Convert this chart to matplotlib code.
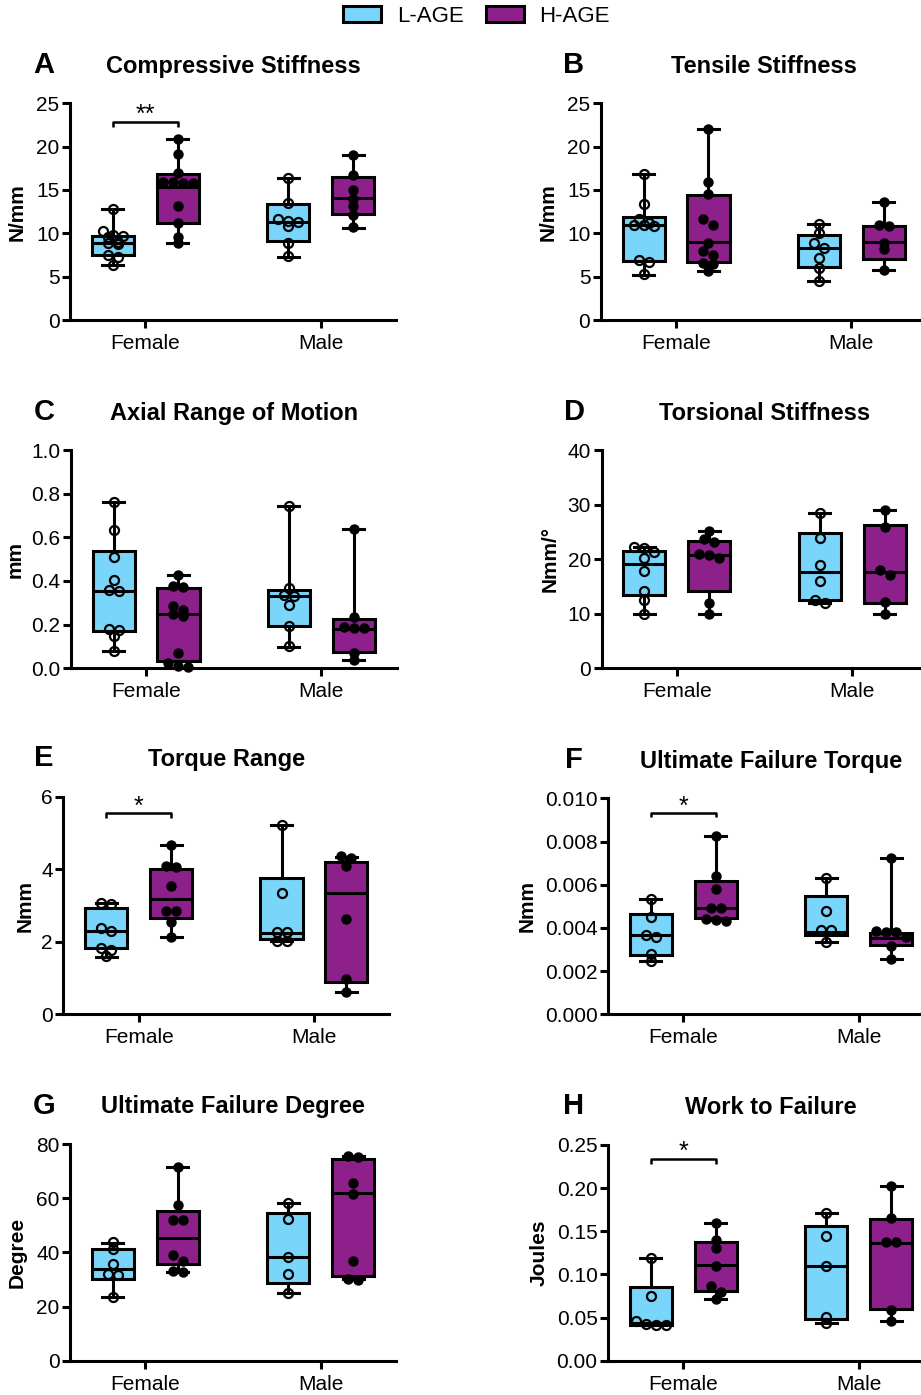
import numpy as np
import matplotlib
matplotlib.use('Agg')
import matplotlib.pyplot as plt
from matplotlib.patches import Patch
from matplotlib.ticker import FormatStrFormatter

plt.rcParams['font.family'] = ['Liberation Sans', 'DejaVu Sans']

W, H = 921, 1395
BLUE = '#79D5FA'
PURPLE = '#8E208C'

categories = ['Female', 'Male']
groups = ['L-AGE', 'H-AGE']

# ---------------- data (order of box lists: L-Female, H-Female, L-Male, H-Male) -------------
# A Compressive Stiffness
A_LF = [12.8, 10.3, 9.8, 9.7, 9.6, 9.0, 8.9, 8.8, 7.5, 7.3, 6.4]
A_HF = [20.9, 19.2, 17.0, 15.9, 15.8, 15.8, 15.9, 13.1, 11.2, 9.6, 8.9]
A_LM = [16.4, 13.5, 11.7, 11.4, 11.3, 10.8, 8.9, 7.4]
A_HM = [19.0, 16.7, 15.0, 14.0, 13.1, 12.1, 10.7]
A_q1 = [7.55, 11.15, 9.1, 12.2]
A_med = [8.85, 15.4, 11.3, 14.1]
A_q3 = [9.7, 16.8, 13.35, 16.5]
A_lo = [6.35, 8.9, 7.3, 10.6]
A_hi = [12.8, 20.9, 16.4, 19.0]

# B Tensile Stiffness
B_LF = [16.9, 13.4, 11.7, 11.2, 11.0, 11.0, 10.9, 6.9, 6.7, 5.3]
B_HF = [22.0, 15.9, 14.5, 11.6, 11.0, 8.9, 8.0, 7.5, 6.6, 6.5, 5.7]
B_LM = [11.1, 10.0, 8.9, 8.3, 7.1, 6.0, 4.45]
B_HM = [13.6, 11.0, 10.8, 8.9, 8.2, 5.8]
B_q1 = [6.8, 6.7, 6.1, 7.0]
B_med = [11.0, 9.0, 8.3, 8.95]
B_q3 = [11.85, 14.4, 9.85, 10.8]
B_lo = [5.2, 5.7, 4.45, 5.8]
B_hi = [16.8, 22.0, 11.1, 13.6]

# C Axial Range of Motion
C_LF = [0.763, 0.634, 0.508, 0.405, 0.36, 0.355, 0.178, 0.175, 0.15, 0.078]
C_HF = [0.427, 0.375, 0.372, 0.285, 0.268, 0.25, 0.238, 0.068, 0.022, 0.01, 0.005]
C_LM = [0.745, 0.37, 0.338, 0.33, 0.288, 0.195, 0.1]
C_HM = [0.638, 0.237, 0.19, 0.185, 0.183, 0.07, 0.038]
C_q1 = [0.173, 0.034, 0.195, 0.075]
C_med = [0.356, 0.249, 0.333, 0.18]
C_q3 = [0.537, 0.366, 0.359, 0.226]
C_lo = [0.079, 0.003, 0.099, 0.038]
C_hi = [0.763, 0.427, 0.745, 0.638]

# D Torsional Stiffness
D_LF = [22.2, 22.1, 21.4, 20.2, 17.8, 14.2, 12.6, 10.0]
D_HF = [25.2, 23.7, 23.2, 21.0, 20.8, 20.3, 11.9, 10.0]
D_LM = [28.5, 23.9, 19.0, 16.0, 12.5, 12.0]
D_HM = [29.0, 25.8, 18.0, 17.1, 12.2, 10.0]
D_q1 = [13.4, 14.2, 12.6, 11.9]
D_med = [19.1, 20.8, 17.6, 17.6]
D_q3 = [21.5, 23.4, 24.7, 26.3]
D_lo = [10.0, 10.0, 12.0, 10.0]
D_hi = [22.2, 25.2, 28.5, 29.0]

# E Torque Range
E_LF = [3.06, 3.03, 2.38, 2.3, 1.83, 1.77, 1.6]
E_HF = [4.67, 4.08, 4.05, 3.54, 2.86, 2.84, 2.55, 2.14]
E_LM = [5.22, 3.34, 2.28, 2.26, 2.03, 2.01]
E_HM = [4.36, 4.3, 4.08, 2.63, 0.97, 0.62]
E_q1 = [1.82, 2.66, 2.07, 0.9]
E_med = [2.3, 3.18, 2.25, 3.34]
E_q3 = [2.92, 4.0, 3.75, 4.2]
E_lo = [1.59, 2.14, 2.02, 0.61]
E_hi = [3.06, 4.67, 5.22, 4.34]

# F Ultimate Failure Torque
F_LF = [0.00534, 0.0045, 0.00368, 0.0036, 0.0028, 0.00247]
F_HF = [0.00826, 0.0064, 0.0058, 0.0049, 0.0049, 0.0044, 0.00435, 0.0043]
F_LM = [0.00633, 0.0048, 0.0039, 0.00388, 0.00336]
F_HM = [0.00722, 0.00385, 0.00383, 0.00382, 0.0036, 0.00316, 0.00256]
F_q1 = [0.00275, 0.00448, 0.00367, 0.0032]
F_med = [0.00367, 0.0049, 0.00383, 0.00352]
F_q3 = [0.00465, 0.00619, 0.00548, 0.00375]
F_lo = [0.00247, 0.00437, 0.00336, 0.00256]
F_hi = [0.00534, 0.00826, 0.00633, 0.00722]

# G Ultimate Failure Degree
G_LF = [43.8, 41.2, 35.6, 32.0, 31.8, 23.6]
G_HF = [71.4, 57.5, 52.0, 51.8, 39.0, 36.8, 33.0, 32.8]
G_LM = [58.3, 52.3, 38.4, 32.0, 24.9]
G_HM = [75.6, 75.3, 65.5, 61.4, 36.9, 30.2, 29.9]
G_q1 = [30.0, 35.7, 28.8, 31.3]
G_med = [33.7, 45.2, 38.4, 61.8]
G_q3 = [41.1, 55.4, 54.4, 74.3]
G_lo = [23.6, 32.9, 24.9, 30.0]
G_hi = [43.6, 71.4, 58.3, 75.6]

# H Work to Failure
H_LF = [0.1186, 0.0755, 0.0455, 0.0425, 0.0415, 0.0412]
H_HF = [0.160, 0.140, 0.131, 0.110, 0.086, 0.080, 0.0715]
H_LM = [0.1708, 0.145, 0.1097, 0.051, 0.0433]
H_HM = [0.2028, 0.165, 0.138, 0.137, 0.0587, 0.0464]
H_q1 = [0.0418, 0.0811, 0.0483, 0.0595]
H_med = [0.044, 0.1105, 0.1097, 0.1368]
H_q3 = [0.085, 0.137, 0.156, 0.1638]
H_lo = [0.0412, 0.0715, 0.0433, 0.0464]
H_hi = [0.1186, 0.160, 0.1708, 0.2028]

titles = ['Compressive Stiffness', 'Tensile Stiffness', 'Axial Range of Motion',
          'Torsional Stiffness', 'Torque Range', 'Ultimate Failure Torque',
          'Ultimate Failure Degree', 'Work to Failure']
letters = ['A', 'B', 'C', 'D', 'E', 'F', 'G', 'H']
ylabels = ['N/mm', 'N/mm', 'mm', 'Nmm/°', 'Nmm', 'Nmm', 'Degree', 'Joules']
yticks = [[0, 5, 10, 15, 20, 25], [0, 5, 10, 15, 20, 25],
          [0.0, 0.2, 0.4, 0.6, 0.8, 1.0], [0, 10, 20, 30, 40],
          [0, 2, 4, 6], [0.000, 0.002, 0.004, 0.006, 0.008, 0.010],
          [0, 20, 40, 60, 80], [0.00, 0.05, 0.10, 0.15, 0.20, 0.25]]
yfmt = ['%d', '%d', '%.1f', '%d', '%d', '%.3f', '%d', '%.2f']

# significance brackets (Female L-AGE vs H-AGE): bracket level, tick end, label
sig_panels = ['A', 'E', 'F', 'H']
sig_level = [22.9, 5.54, 0.0093, 0.2334]
sig_tick = [22.3, 5.42, 0.00912, 0.2285]
sig_text = ['**', '*', '*', '*']

points = {
    'A': [A_LF, A_HF, A_LM, A_HM], 'B': [B_LF, B_HF, B_LM, B_HM],
    'C': [C_LF, C_HF, C_LM, C_HM], 'D': [D_LF, D_HF, D_LM, D_HM],
    'E': [E_LF, E_HF, E_LM, E_HM], 'F': [F_LF, F_HF, F_LM, F_HM],
    'G': [G_LF, G_HF, G_LM, G_HM], 'H': [H_LF, H_HF, H_LM, H_HM],
}
boxes = {
    'A': (A_q1, A_med, A_q3, A_lo, A_hi), 'B': (B_q1, B_med, B_q3, B_lo, B_hi),
    'C': (C_q1, C_med, C_q3, C_lo, C_hi), 'D': (D_q1, D_med, D_q3, D_lo, D_hi),
    'E': (E_q1, E_med, E_q3, E_lo, E_hi), 'F': (F_q1, F_med, F_q3, F_lo, F_hi),
    'G': (G_q1, G_med, G_q3, G_lo, G_hi), 'H': (H_q1, H_med, H_q3, H_lo, H_hi),
}

# ---------------- layout (pixels) ----------------
ax_px = [(70, 103.3, 320), (600.7, 103.3, 320),
         (70.7, 450, 668.3), (601.5, 450, 668.3),
         (63.3, 796.7, 1014.3), (608, 798.3, 1014.3),
         (70, 1144, 1360.7), (608, 1145, 1360.7)]
AX_W = 326
ylab_off = [-52.5, -53, -55.7, -51, -38.5, -80.5, -52.5, -68.5]
letter_x = [44, 574]
XLIM = (-0.43, 1.43)
OFF = 0.185
BOXW = 0.24
LW = 2.2

fig = plt.figure(figsize=(W / 100, H / 100), dpi=100)


def swarm(ax, xc, ys, row_gap=6.0, spacing=10.0):
    """Centered-row scatter layout (GraphPad-like), computed in pixel space."""
    pts = ax.transData.transform(np.column_stack([np.full(len(ys), xc), ys]))
    x0 = pts[0, 0]
    order = np.argsort(-pts[:, 1])
    xs_px = np.full(len(ys), x0)
    rows = []
    for idx in order:
        if rows and abs(pts[rows[-1][0], 1] - pts[idx, 1]) < row_gap:
            rows[-1].append(idx)
        else:
            rows.append([idx])
    for row in rows:
        n = len(row)
        for j, idx in enumerate(row):
            xs_px[idx] = x0 + (j - (n - 1) / 2) * spacing
    arr = ax.transData.inverted().transform(np.column_stack([xs_px, pts[:, 1]]))
    return arr[:, 0]


for i, key in enumerate(letters):
    left, top, bottom = ax_px[i]
    rect = [left / W, 1 - bottom / H, AX_W / W, (bottom - top) / H]
    ax = fig.add_axes(rect)
    ax.set_xlim(*XLIM)
    ax.set_ylim(yticks[i][0], yticks[i][-1])

    q1, med, q3, lo, hi = boxes[key]
    positions = []
    colors = []
    for ci, cat in enumerate(categories):
        for gi, g in enumerate(groups):
            positions.append(ci + (-OFF if gi == 0 else OFF))
            colors.append(BLUE if gi == 0 else PURPLE)
    stats = [dict(q1=q1[k], med=med[k], q3=q3[k], whislo=lo[k], whishi=hi[k], label='')
             for k in range(4)]
    bp = ax.bxp(stats, positions=positions, widths=BOXW, patch_artist=True,
                showfliers=False, manage_ticks=False,
                boxprops=dict(linewidth=LW, edgecolor='black'),
                whiskerprops=dict(linewidth=LW, color='black'),
                capprops=dict(linewidth=LW, color='black'),
                medianprops=dict(linewidth=LW, color='black'))
    for patch, c in zip(bp['boxes'], colors):
        patch.set_facecolor(c)
        patch.set_zorder(2)
    for k in range(4):
        ys = points[key][k]
        xs = swarm(ax, positions[k], ys)
        if k % 2 == 0:
            ax.plot(xs, ys, 'o', ms=6.5, mfc='none', mec='black', mew=1.6, zorder=4,
                    clip_on=False)
        else:
            ax.plot(xs, ys, 'o', ms=6.5, mfc='black', mec='black', mew=1.0, zorder=4,
                    clip_on=False)

    for s in ['top', 'right']:
        ax.spines[s].set_visible(False)
    for s in ['left', 'bottom']:
        ax.spines[s].set_linewidth(LW)
    ax.set_xticks(range(len(categories)))
    ax.set_xticklabels(categories)
    ax.set_yticks(yticks[i])
    ax.yaxis.set_major_formatter(FormatStrFormatter(yfmt[i]))
    ax.tick_params(axis='x', direction='out', length=6, width=LW, labelsize=15, pad=4)
    ax.tick_params(axis='y', direction='out', length=6, width=LW, labelsize=15, pad=1.5)
    ax.set_ylabel(ylabels[i], fontsize=15, fontweight='bold', va='center')
    ax.yaxis.set_label_coords(ylab_off[i] / AX_W, 0.5)

    ax.text(0.5, 1 + 30.5 / (bottom - top), titles[i], transform=ax.transAxes,
            ha='center', va='baseline', fontsize=17, fontweight='bold')
    fig.text(letter_x[i % 2] / W, 1 - (top - 30.5) / H, key, ha='center',
             va='baseline', fontsize=21, fontweight='bold')

    if key in sig_panels:
        j = sig_panels.index(key)
        x1, x2 = -OFF, OFF
        ax.plot([x1, x1, x2, x2], [sig_tick[j], sig_level[j], sig_level[j], sig_tick[j]],
                color='black', lw=1.8, solid_capstyle='butt', clip_on=False)
        ax.text(0, sig_level[j], sig_text[j], ha='center', va='baseline', fontsize=18,
                clip_on=False)

handles = [Patch(facecolor=BLUE, edgecolor='black', linewidth=LW, label=groups[0]),
           Patch(facecolor=PURPLE, edgecolor='black', linewidth=LW, label=groups[1])]
fig.legend(handles=handles, loc='center', bbox_to_anchor=(476.5 / W, 1 - 16.5 / H),
           ncol=2, frameon=False, fontsize=16, handlelength=1.7, handleheight=0.75,
           handletextpad=0.7, columnspacing=1.0)

fig.savefig('out.png', dpi=100)
